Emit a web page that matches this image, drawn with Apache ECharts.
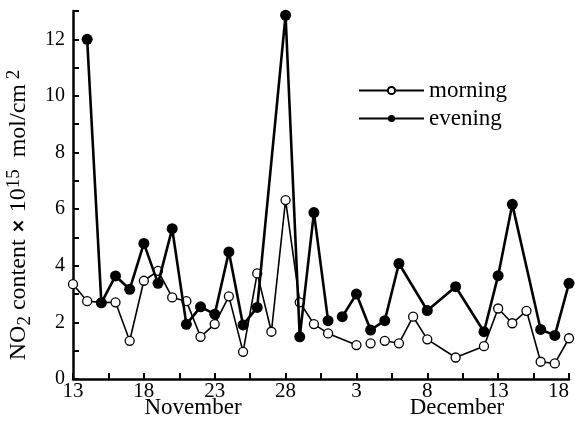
<html lang="en">
<head>
    <meta charset="UTF-8">
    <title>NO2 content</title>
    <script src="https://cdn.jsdelivr.net/npm/echarts@6/dist/echarts.min.js"></script>
    <style>
        html, body { margin: 0; padding: 0; background: #fff; }
        #my-chart { width: 575px; height: 423px; }
    </style>
</head>
<body>
    <div id="my-chart"></div>
    <script>
        // day index 0 = Nov 13 ... 35 = Dec 18; null marks a break in the line
        var tickLabels = ['13', '18', '23', '28', '3', '8', '13', '18'];
        var months = ['November', 'December'];

        var morningDays = [0, 1, 2, 3, 4, 5, 6, 7, 8, 9, 10, 11, 12, 13, 14, 15, 16, 17, 18, 20, 20.5, 21, 21.5,
            22, 23, 24, 25, 27, 29, 30, 31, 32, 33, 34, 35];
        var morningValues = [3.35, 2.75, 2.7, 2.71, 1.35, 3.47, 3.82, 2.88, 2.75, 1.49, 1.94, 2.92, 0.96, 3.73, 1.67,
            6.32, 2.71, 1.94, 1.61, 1.2, null, 1.26, null, 1.35, 1.26, 2.2, 1.4, 0.76, 1.16, 2.49, 1.97, 2.41, 0.61,
            0.55, 1.44];

        var eveningDays = [1, 2, 3, 4, 5, 6, 7, 8, 9, 10, 11, 12, 13, 15, 16, 17, 18, 18.5, 19, 20, 21, 22, 23,
            25, 27, 29, 30, 31, 33, 34, 35];
        var eveningValues = [12.0, 2.69, 3.64, 3.17, 4.79, 3.38, 5.31, 1.93, 2.55, 2.29, 4.49, 1.91, 2.53, 12.85,
            1.49, 5.88, 2.06, null, 2.2, 3.0, 1.73, 2.06, 4.08, 2.42, 3.26, 1.67, 3.65, 6.17, 1.75, 1.54, 3.38];

        var font = 'Liberation Serif';

        function pairs(xs, ys) {
            return xs.map(function (x, i) { return [x, ys[i]]; });
        }

        var chart = echarts.init(document.getElementById('my-chart'));
        var option = {
            animation: false,
            grid: { left: 73, right: 6, top: 11, bottom: 44, containLabel: false, outerBoundsMode: 'none' },
            legend: {
                orient: 'vertical',
                left: 353,
                top: 74,
                itemWidth: 65,
                itemHeight: 9,
                itemGap: 5,
                textStyle: { fontFamily: font, fontSize: 23, color: '#000' },
                data: ['morning', 'evening']
            },
            xAxis: {
                type: 'value',
                min: 0,
                max: 35,
                interval: 2.5,
                splitLine: { show: false },
                axisLine: { lineStyle: { color: '#000', width: 2.5 } },
                axisTick: { inside: true, length: 6, lineStyle: { color: '#000', width: 2 } },
                axisLabel: {
                    margin: 2,
                    alignMaxLabel: 'right',
                    fontFamily: font, fontSize: 21, color: '#000',
                    formatter: function (v) {
                        return v % 5 === 0 ? tickLabels[v / 5] : '';
                    }
                }
            },
            yAxis: {
                type: 'value',
                min: 0,
                max: 13,
                interval: 1,
                splitLine: { show: false },
                axisLine: { lineStyle: { color: '#000', width: 2.5 } },
                axisTick: { inside: true, length: 6, lineStyle: { color: '#000', width: 2 } },
                axisLabel: {
                    margin: 8,
                    fontFamily: font, fontSize: 20, color: '#000',
                    formatter: function (v) {
                        return v % 2 === 0 && v <= 12 ? String(v) : '';
                    }
                },
                name: '{a|NO}{s|2}{a| content }{x|×}{a| 10}{p|15}{a|  mol/cm}{p| 2}',
                nameLocation: 'middle',
                nameRotate: 90,
                nameGap: 30,
                nameTextStyle: {
                    padding: [0, 40, 0, 0],
                    rich: {
                        a: { fontFamily: font, fontSize: 24, color: '#000', lineHeight: 30, verticalAlign: 'middle' },
                        s: { fontFamily: font, fontSize: 19, color: '#000', lineHeight: 30, verticalAlign: 'bottom' },
                        p: { fontFamily: font, fontSize: 19, color: '#000', lineHeight: 30, verticalAlign: 'top' },
                        x: { fontFamily: 'DejaVu Sans', fontSize: 18, fontWeight: 'bold', color: '#000', lineHeight: 30, verticalAlign: 'middle' }
                    }
                }
            },
            graphic: [
                { type: 'text', x: 193, y: 396, style: { text: months[0], textAlign: 'center', font: '23px "Liberation Serif"', fill: '#000' } },
                { type: 'text', x: 457, y: 396, style: { text: months[1], textAlign: 'center', font: '23px "Liberation Serif"', fill: '#000' } }
            ],
            series: [
                {
                    name: 'morning',
                    type: 'line',
                    data: pairs(morningDays, morningValues),
                    connectNulls: false,
                    symbol: 'circle',
                    symbolSize: 9,
                    showAllSymbol: true,
                    lineStyle: { color: '#000', width: 1.6 },
                    itemStyle: { color: '#fff', borderColor: '#000', borderWidth: 1.3 },
                    z: 2
                },
                {
                    name: 'evening',
                    type: 'line',
                    data: pairs(eveningDays, eveningValues),
                    connectNulls: false,
                    symbol: 'circle',
                    symbolSize: 11,
                    showAllSymbol: true,
                    lineStyle: { color: '#000', width: 2.6 },
                    itemStyle: { color: '#000', borderColor: '#000', borderWidth: 0 },
                    z: 3
                }
            ]
        };
        chart.setOption(option);
    </script>
</body>
</html>
